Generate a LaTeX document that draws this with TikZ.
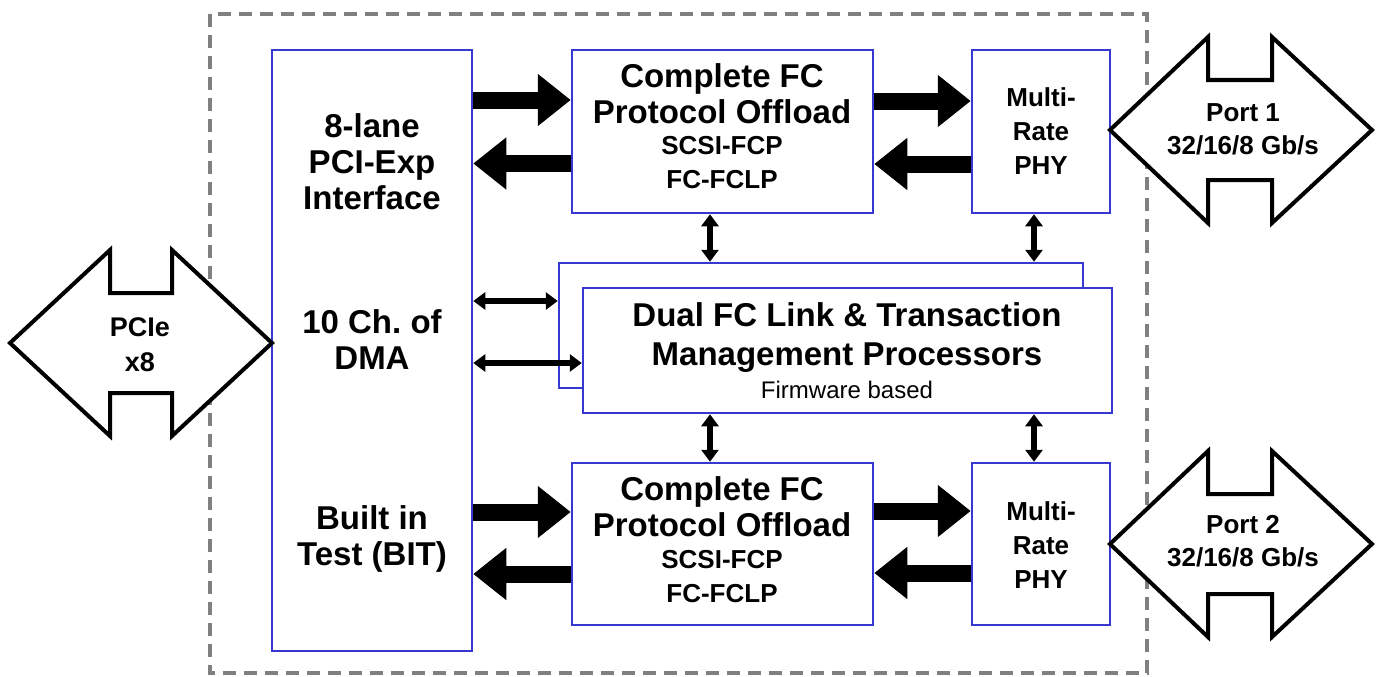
\documentclass[tikz,border=0pt]{standalone}
\usepackage{fontspec}
\setmainfont{Liberation Sans}
\usetikzlibrary{arrows.meta,calc}
\definecolor{boxblue}{RGB}{55,55,210}
\definecolor{dashgray}{RGB}{128,128,128}
\frenchspacing
\begin{document}
\begin{tikzpicture}[x=1pt,y=-1pt,
 box/.style={draw=boxblue,line width=2.5pt,fill=white,inner sep=0pt},
 bigtxt/.style={font=\fontsize{33}{36}\selectfont\bfseries,align=center,inner sep=0pt},
 midtxt/.style={font=\fontsize{26}{34}\selectfont\bfseries,align=center,inner sep=0pt},
 fat/.style={line width=17pt,-{Triangle[length=33pt,width=50pt]}},
 thinarr/.style={line width=5.5pt,{Triangle[length=12pt,width=17pt]}-{Triangle[length=12pt,width=17pt]}},
 bigarrow/.style={draw=black,line width=4pt,fill=white,line join=miter}]

\useasboundingbox (0,0) rectangle (1376,677);
\draw[dashgray,line width=3.5pt,dash pattern=on 13pt off 8pt] (210,14) rectangle (1147,673);

% boxes
\node[box,minimum width=200pt,minimum height=601pt] (pci) at (372,350.5) {};
\node[box,minimum width=301pt,minimum height=163pt] (fc1) at (722.5,131.5) {};
\node[box,minimum width=301pt,minimum height=162pt] (fc2) at (722.5,544) {};
\node[box,minimum width=138pt,minimum height=163pt] (phy1) at (1041,131.5) {};
\node[box,minimum width=138pt,minimum height=162pt] (phy2) at (1041,544) {};
\node[box,minimum width=524pt,minimum height=125pt] (dualb) at (821,325.5) {};
\node[box,minimum width=529pt,minimum height=125pt] (dual) at (847.5,350.5) {};

% texts
\node[bigtxt] (t1) at (372,162) {8-lane\\PCI-Exp\\Interface};
\node[bigtxt] (t2) at (372,340) {10 Ch. of\\DMA};
\node[bigtxt] (t3) at (372,539) {Built in\\Test (BIT)};
\node[bigtxt] (f1a) at (722,93.5) {Complete FC\\Protocol Offload};
\node[midtxt] (f1b) at (722,163) {SCSI-FCP\\FC-FCLP};
\node[bigtxt] (f2a) at (722,506.5) {Complete FC\\Protocol Offload};
\node[midtxt] (f2b) at (722,577) {SCSI-FCP\\FC-FCLP};
\node[midtxt] (p1t) at (1041,131) {Multi-\\Rate\\PHY};
\node[midtxt] (p2t) at (1041,545) {Multi-\\Rate\\PHY};
\node[font=\fontsize{33}{39}\selectfont\bfseries,align=center,inner sep=0pt] (dt) at (847,337.5) {Dual FC Link \& Transaction\\Management Processors};
\node[font=\fontsize{24}{28}\selectfont,inner sep=0pt] (fw) at (847,390) {Firmware based};

% outline double arrows
\draw[bigarrow] (10,343) -- (110,250) -- (110,293) -- (172,293) -- (172,250) -- (272,343) -- (172,436) -- (172,393) -- (110,393) -- (110,436) -- cycle;
\node[font=\fontsize{27}{35}\selectfont\bfseries,align=center,inner sep=0pt] (pcie) at (140,345) {PCIe\\x8};
\draw[bigarrow] (1110,130) -- (1208,37) -- (1208,80) -- (1272,80) -- (1272,37) -- (1372,130) -- (1272,223) -- (1272,180) -- (1208,180) -- (1208,223) -- cycle;
\node[midtxt,font=\fontsize{26}{33}\selectfont\bfseries] (port1) at (1243,129) {Port 1\\32/16/8 Gb/s};
\draw[bigarrow] (1110,544) -- (1208,451) -- (1208,494) -- (1272,494) -- (1272,451) -- (1372,544) -- (1272,637) -- (1272,594) -- (1208,594) -- (1208,637) -- cycle;
\node[midtxt,font=\fontsize{26}{33}\selectfont\bfseries] (port2) at (1243,541) {Port 2\\32/16/8 Gb/s};

% fat arrows
\draw[fat] ($(pci.east|-fc1.west)+(0,-31.5)$) -- ($(fc1.west)+(0,-31.5)$);
\draw[fat] ($(fc1.west)+(0,32)$) -- ($(pci.east|-fc1.west)+(0,32)$);
\draw[fat] ($(fc1.east)+(0,-30.5)$) -- ($(phy1.west)+(0,-30.5)$);
\draw[fat] ($(phy1.west)+(0,32.5)$) -- ($(fc1.east)+(0,32.5)$);
\draw[fat] ($(pci.east|-fc2.west)+(0,-32)$) -- ($(fc2.west)+(0,-32)$);
\draw[fat] ($(fc2.west)+(0,30)$) -- ($(pci.east|-fc2.west)+(0,30)$);
\draw[fat] ($(fc2.east)+(0,-33)$) -- ($(phy2.west)+(0,-33)$);
\draw[fat] ($(phy2.west)+(0,29)$) -- ($(fc2.east)+(0,29)$);

% thin double arrows
\coordinate (v1) at ($(fc1.south)+(-12.5,0)$);
\coordinate (v2) at ($(phy1.south)+(-7,0)$);
\coordinate (v3) at ($(fc2.north)+(-12.5,0)$);
\coordinate (v4) at ($(phy2.north)+(-7,0)$);
\draw[thinarr] (v1) -- (v1 |- dualb.north);
\draw[thinarr] (v2) -- (v2 |- dualb.north);
\draw[thinarr] (v3 |- dual.south) -- (v3);
\draw[thinarr] (v4 |- dual.south) -- (v4);
\coordinate (h1) at ($(dualb.west)+(0,-24.5)$);
\coordinate (h2) at ($(dual.west)+(0,12.5)$);
\draw[thinarr] (pci.east |- h1) -- (h1);
\draw[thinarr] (pci.east |- h2) -- (h2);
\end{tikzpicture}
\end{document}
